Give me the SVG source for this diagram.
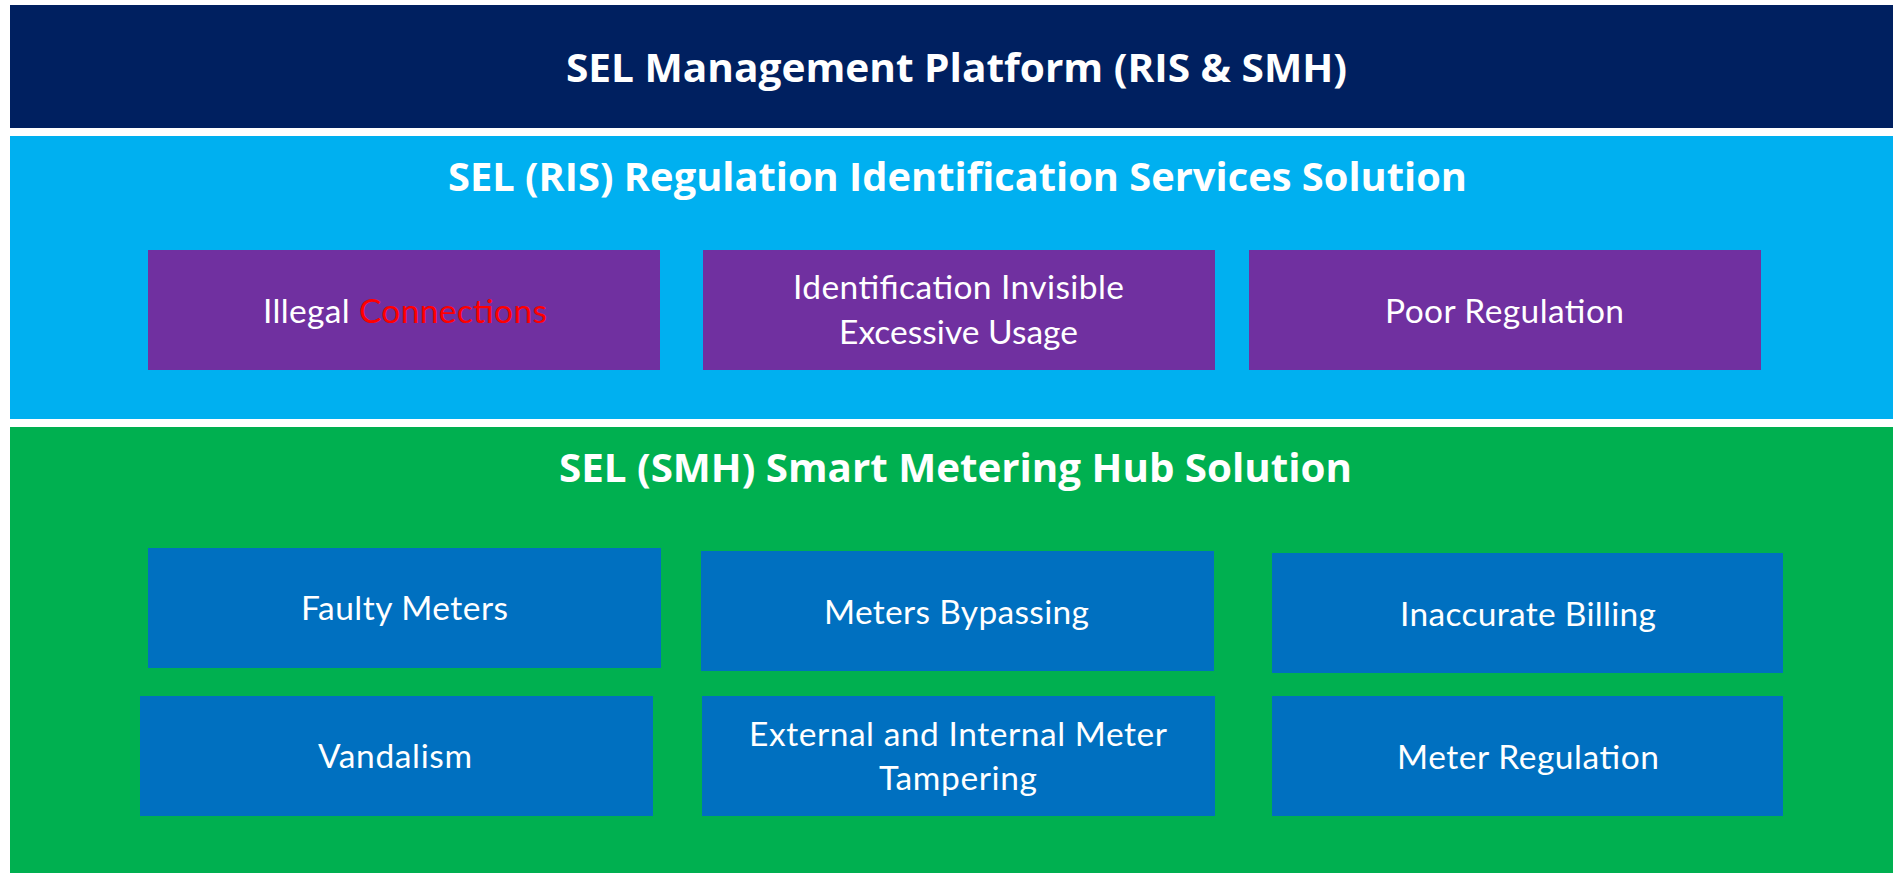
<svg xmlns="http://www.w3.org/2000/svg" width="1893" height="873" viewBox="0 0 1893 873">
  <style>
    .title { font-family: "Open Sans", Lato, "Liberation Sans", sans-serif; font-weight: bold; font-size: 40px; fill: #FFFFFF; }
    .lbl { font-family: Lato, "Liberation Sans", sans-serif; font-size: 33.5px; fill: #FFFFFF; }
    .red { fill: #FF0000; }
    .purple { fill: #7030A0; }
    .blue { fill: #0070C0; }
  </style>
  <rect x="0" y="0" width="1893" height="873" fill="#FFFFFF"/>

  <g id="platform">
    <rect x="10" y="5" width="1883" height="123" fill="#002060"/>
    <text class="title" x="566" y="82" textLength="781" lengthAdjust="spacingAndGlyphs">SEL Management Platform (RIS &amp; SMH)</text>
  </g>

  <g id="ris">
    <rect x="10" y="136" width="1883" height="283" fill="#00B0F0"/>
    <text class="title" x="448" y="191" textLength="1019" lengthAdjust="spacingAndGlyphs">SEL (RIS) Regulation Identification Services Solution</text>
  </g>

  <g id="illegal-connections">
    <rect class="purple" x="148" y="250" width="512" height="120"/>
    <text class="lbl" x="263" y="323" textLength="284">Illegal <tspan class="red">Connections</tspan></text>
  </g>

  <g id="identification-invisible">
    <rect class="purple" x="703" y="250" width="512" height="120"/>
    <text class="lbl" x="793" y="299" textLength="331">Identification Invisible</text>
    <text class="lbl" x="839" y="344" textLength="239">Excessive Usage</text>
  </g>

  <g id="poor-regulation">
    <rect class="purple" x="1249" y="250" width="512" height="120"/>
    <text class="lbl" x="1385" y="323" textLength="239">Poor Regulation</text>
  </g>

  <g id="smh">
    <rect x="10" y="427" width="1883" height="446" fill="#00B050"/>
    <text class="title" x="559" y="482" textLength="793" lengthAdjust="spacingAndGlyphs">SEL (SMH) Smart Metering Hub Solution</text>
  </g>

  <g id="faulty-meters">
    <rect class="blue" x="148" y="548" width="513" height="120"/>
    <text class="lbl" x="301" y="620" textLength="207">Faulty Meters</text>
  </g>

  <g id="meters-bypassing">
    <rect class="blue" x="701" y="551" width="513" height="120"/>
    <text class="lbl" x="824" y="624" textLength="265">Meters Bypassing</text>
  </g>

  <g id="inaccurate-billing">
    <rect class="blue" x="1272" y="553" width="511" height="120"/>
    <text class="lbl" x="1400" y="626" textLength="256">Inaccurate Billing</text>
  </g>

  <g id="vandalism">
    <rect class="blue" x="140" y="696" width="513" height="120"/>
    <text class="lbl" x="318" y="768" textLength="154">Vandalism</text>
  </g>

  <g id="meter-tampering">
    <rect class="blue" x="702" y="696" width="513" height="120"/>
    <text class="lbl" x="749" y="746" textLength="418">External and Internal Meter</text>
    <text class="lbl" x="879" y="790" textLength="158">Tampering</text>
  </g>

  <g id="meter-regulation">
    <rect class="blue" x="1272" y="696" width="511" height="120"/>
    <text class="lbl" x="1397" y="769" textLength="262">Meter Regulation</text>
  </g>

  <g id="connectors"></g>
</svg>
